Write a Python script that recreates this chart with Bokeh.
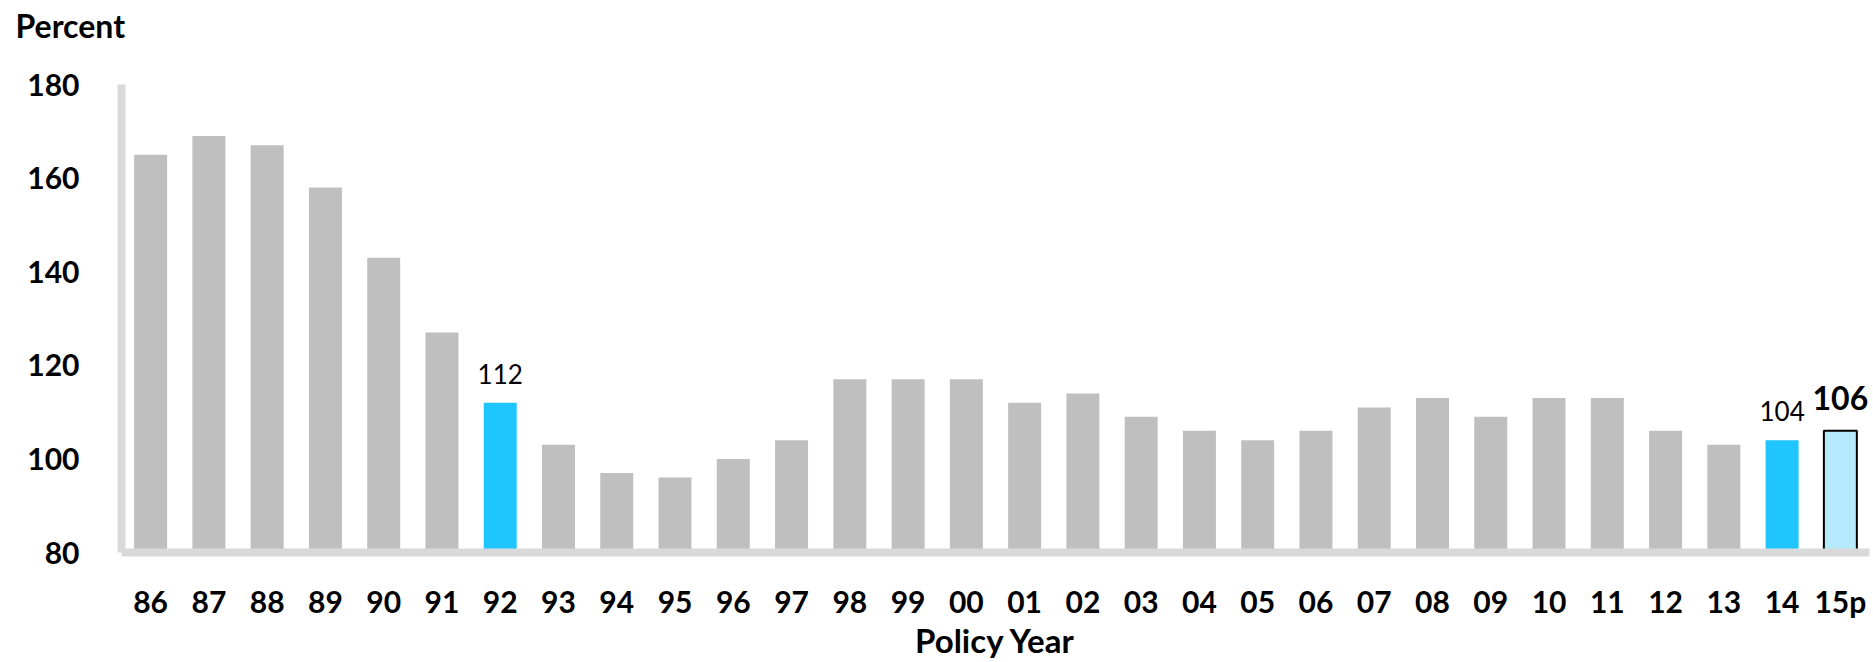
from bokeh.plotting import figure
from bokeh.models import ColumnDataSource, LabelSet, FactorRange, Range1d, FixedTicker
from bokeh.core.properties import value
from bokeh.embed import file_html
from bokeh.resources import INLINE

years = ["86", "87", "88", "89", "90", "91", "92", "93", "94", "95", "96", "97", "98", "99",
         "00", "01", "02", "03", "04", "05", "06", "07", "08", "09", "10", "11", "12", "13",
         "14", "15p"]
values = [165, 169, 167, 158, 143, 127, 112, 103, 97, 96, 100, 104, 117, 117,
          117, 112, 114, 109, 106, 104, 106, 111, 113, 109, 113, 113, 106, 103,
          104, 106]
highlight_years = ["92", "14"]
projected_years = ["15p"]
y_ticks = [80, 100, 120, 140, 160, 180]
y_start, y_end = 80, 180

GRAY = "#bfbfbf"
BLUE = "#1fc5ff"
LIGHT = "#b4eafb"
AXIS = "#d9d9d9"
FONT = "Lato"

fills, lines, lwidths = [], [], []
for y in years:
    if y in projected_years:
        fills.append(LIGHT); lines.append("black"); lwidths.append(2)
    elif y in highlight_years:
        fills.append(BLUE); lines.append(BLUE); lwidths.append(0)
    else:
        fills.append(GRAY); lines.append(GRAY); lwidths.append(0)

src = ColumnDataSource(dict(year=years, value=values, fill=fills, line=lines, lw=lwidths))

p = figure(x_range=FactorRange(*years, range_padding=0), y_range=Range1d(y_start, y_end),
           width=1873, height=662, output_backend="svg", toolbar_location=None,
           min_border_left=121, min_border_right=4, min_border_top=84, min_border_bottom=109)

p.vbar(x="year", top="value", bottom=y_start, width=0.566, source=src,
       fill_color="fill", line_color="line", line_width="lw")

hl = [i for i, y in enumerate(years) if y in highlight_years]
lab_src = ColumnDataSource(dict(year=[years[i] for i in hl], value=[values[i] for i in hl],
                                txt=[str(values[i]) for i in hl]))
p.add_layout(LabelSet(x="year", y="value", text="txt", source=lab_src, y_offset=19,
                      text_align="center", text_baseline="alphabetic",
                      text_font=value(FONT), text_font_size="26px", text_color="black"))
pj = [i for i, y in enumerate(years) if y in projected_years]
pj_src = ColumnDataSource(dict(year=[years[i] for i in pj], value=[values[i] for i in pj],
                               txt=[str(values[i]) for i in pj]))
p.add_layout(LabelSet(x="year", y="value", text="txt", source=pj_src, y_offset=21,
                      text_align="center", text_baseline="alphabetic",
                      text_font=value(FONT), text_font_size="32px", text_font_style="bold",
                      text_color="black"))

# "Percent" unit label at the top-left (second empty line lifts it above the frame)
p.title.text = "Percent\n "
p.title.text_font = FONT
p.title.text_font_size = "32px"
p.title.text_font_style = "bold"
p.title.text_color = "black"
p.title.align = "left"
p.title.offset = -106
p.title.standoff = 2

p.xgrid.visible = False
p.ygrid.visible = False
p.outline_line_color = None

for ax in (p.xaxis, p.yaxis):
    ax.axis_line_color = AXIS
    ax.axis_line_width = 8
    ax.major_tick_line_color = None
    ax.minor_tick_line_color = None
    ax.major_label_text_font = FONT
    ax.major_label_text_font_size = "30px"
    ax.major_label_text_font_style = "bold"
    ax.major_label_text_color = "black"

p.yaxis.ticker = FixedTicker(ticks=y_ticks)
p.yaxis.major_label_standoff = 36
p.xaxis.major_label_standoff = 24
p.xaxis.axis_label = "Policy Year"
p.xaxis.axis_label_text_font = FONT
p.xaxis.axis_label_text_font_size = "33px"
p.xaxis.axis_label_text_font_style = "bold"
p.xaxis.axis_label_text_color = "black"
p.xaxis.axis_label_standoff = -2

open("out.html", "w").write(file_html(p, INLINE))
